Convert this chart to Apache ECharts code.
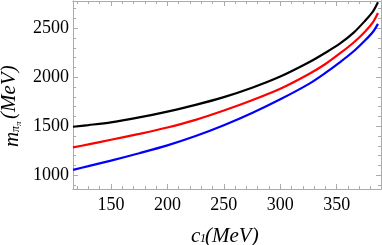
<!DOCTYPE html>
<html>
<head>
<meta charset="utf-8">
<script src="https://cdn.jsdelivr.net/npm/echarts@6/dist/echarts.min.js"></script>
<style>html,body{margin:0;padding:0;background:#fff}#c{width:382px;height:245px}</style>
</head>
<body>
<div id="c"></div>
<script>
// data
const c1 = [116.4, 130, 150, 175, 200, 225, 250, 275, 300, 325, 340, 353, 365, 375, 382, 386.5];
const mBlack = [1495, 1512, 1540, 1590, 1650, 1718, 1797, 1893, 2007, 2150, 2250, 2345, 2455, 2575, 2670, 2765];
const mRed   = [1284, 1315, 1362, 1422, 1487, 1565, 1660, 1765, 1882, 2030, 2135, 2245, 2355, 2465, 2560, 2655];
const mBlue  = [1055, 1093, 1150, 1225, 1305, 1400, 1510, 1635, 1775, 1930, 2045, 2155, 2265, 2375, 2462, 2545];
const xTicks = [150, 200, 250, 300, 350];
const xMinor = [120, 130, 140, 160, 170, 180, 190, 210, 220, 230, 240, 260, 270, 280, 290, 310, 320, 330, 340, 360, 370, 380];
const yTicks = [1000, 1500, 2000, 2500];
const yMinor = [900, 1100, 1200, 1300, 1400, 1600, 1700, 1800, 1900, 2100, 2200, 2300, 2400, 2600, 2700];

const X_MIN = 116.4, X_MAX = 389.2, Y_MIN = 860, Y_MAX = 2778;
const FRAME = '#ababab';
const SERIF = 'Liberation Serif';

function axis(kind, pos, ticks, len, labels) {
  const isX = kind === 'x';
  return {
    type: 'value',
    position: pos,
    min: isX ? X_MIN : Y_MIN,
    max: isX ? X_MAX : Y_MAX,
    splitLine: {show: false},
    axisLine: {show: true, onZero: false, lineStyle: {color: FRAME, width: 1}},
    axisTick: {show: true, inside: true, length: len, customValues: ticks, lineStyle: {color: FRAME, width: 1}},
    axisLabel: {
      show: labels, customValues: isX ? xTicks : yTicks,
      formatter: v => String(v),
      color: '#000', fontFamily: SERIF, fontSize: 18, margin: isX ? 7 : 4
    }
  };
}

const chart = echarts.init(document.getElementById('c'), null, {renderer: 'canvas'});
const mk = (d, color) => ({
  type: 'line', xAxisIndex: 0, yAxisIndex: 0, showSymbol: false, smooth: 0.3,
  data: c1.map((x, i) => [x, d[i]]),
  lineStyle: {color: color, width: 2.2}, silent: true
});
chart.setOption({
  animation: false,
  grid: {left: 73, right: 1, top: 1, bottom: 56, containLabel: false},
  xAxis: [
    axis('x', 'bottom', xTicks, 5, true),
    axis('x', 'bottom', xMinor, 3, false),
    axis('x', 'top', xTicks, 5, false),
    axis('x', 'top', xMinor, 3, false)
  ],
  yAxis: [
    axis('y', 'left', yTicks, 5, true),
    axis('y', 'left', yMinor, 3, false),
    axis('y', 'right', yTicks, 5, false),
    axis('y', 'right', yMinor, 3, false)
  ],
  series: [mk(mBlack, '#000000'), mk(mRed, '#ff0000'), mk(mBlue, '#0000ff')],
  graphic: [
    {type: 'group', x: 0, y: 0, children: [
      {type: 'text', x: 191, y: 226, style: {text: 'c', font: 'italic 21px ' + SERIF, fill: '#000'}},
      {type: 'text', x: 200, y: 233, style: {text: '1', font: 'italic 12px ' + SERIF, fill: '#000'}},
      {type: 'text', x: 205, y: 226, style: {text: '(MeV)', font: 'italic 21px ' + SERIF, fill: '#000'}}
    ]},
    {type: 'group', x: 2, y: 147, rotation: Math.PI / 2, children: [
      {type: 'text', x: 0, y: 0, style: {text: 'm', font: 'italic 21px ' + SERIF, fill: '#000'}},
      {type: 'text', x: 15, y: 8, style: {text: 'π', font: 'italic 12px ' + SERIF, fill: '#000'}},
      {type: 'text', x: 21, y: 12, style: {text: 'π', font: 'italic 9px ' + SERIF, fill: '#000'}},
      {type: 'text', x: 28, y: -3, style: {text: '(MeV)', font: 'italic 21px ' + SERIF, fill: '#000'}}
    ]}
  ]
});
</script>
</body>
</html>
